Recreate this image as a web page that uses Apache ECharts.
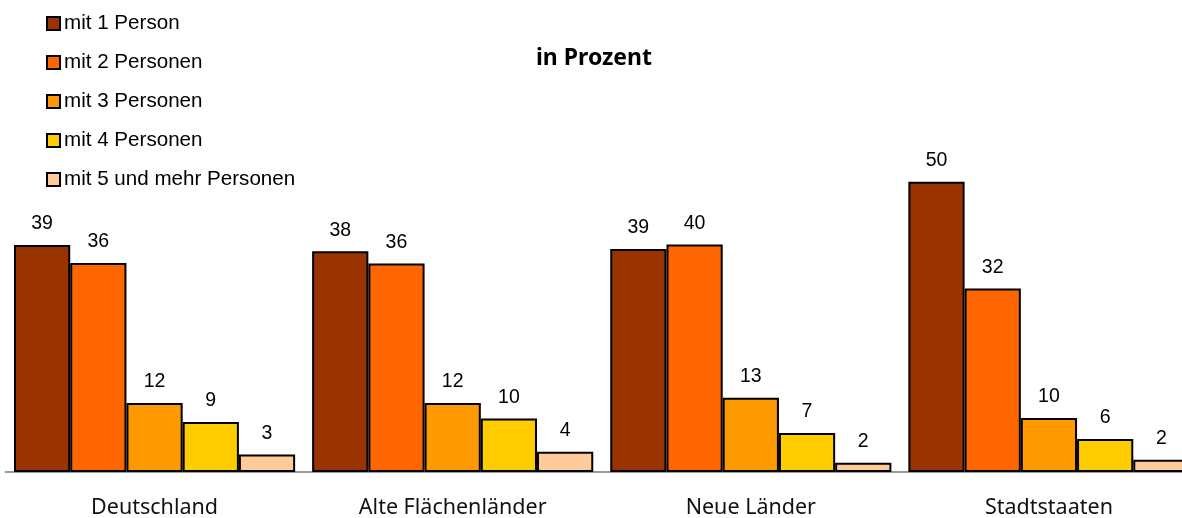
<!DOCTYPE html>
<html>
<head>
<meta charset="utf-8">
<script src="https://cdn.jsdelivr.net/npm/echarts@6/dist/echarts.min.js"></script>
<style>
html,body{margin:0;padding:0;background:#fff;overflow:hidden;width:1182px;height:518px;}
#c{width:1198px;height:518px;}
</style>
</head>
<body>
<div id="c"></div>
<script>
const categories = ['Deutschland', 'Alte Flächenländer', 'Neue Länder', 'Stadtstaaten'];
const seriesNames = ['mit 1 Person', 'mit 2 Personen', 'mit 3 Personen', 'mit 4 Personen', 'mit 5 und mehr Personen'];
const colors = ['#993300', '#FF6600', '#FF9900', '#FFCC00', '#FFCC99'];
const p1 = [39.1, 38.0, 38.4, 50.0];
const p2 = [36.0, 35.9, 39.2, 31.6];
const p3 = [11.9, 11.9, 12.8, 9.3];
const p4 = [8.6, 9.2, 6.7, 5.7];
const p5 = [3.0, 3.5, 1.6, 2.1];
const labels1 = [39, 38, 39, 50];
const labels2 = [36, 36, 40, 32];
const labels3 = [12, 12, 13, 10];
const labels4 = [9, 10, 7, 6];
const labels5 = [3, 4, 2, 2];

const values = [p1, p2, p3, p4, p5];
const labelSets = [labels1, labels2, labels3, labels4, labels5];

const chart = echarts.init(document.getElementById('c'), null, {renderer: 'canvas'});
chart.setOption({
  animation: false,
  backgroundColor: '#ffffff',
  title: {
    text: 'in Prozent',
    left: 594,
    textAlign: 'center',
    top: 47,
    padding: 0,
    textStyle: {fontFamily: 'Noto Sans', fontWeight: 'bold', fontSize: 23, color: '#000'}
  },
  legend: {
    orient: 'vertical',
    left: 46,
    top: 13,
    padding: 0,
    itemWidth: 13,
    itemHeight: 13,
    itemGap: 18,
    icon: 'rect',
    textStyle: {fontFamily: 'Liberation Sans', fontSize: 20.6, color: '#000', lineHeight: 20, padding: [0,0,0,-1]},
    data: seriesNames
  },
  grid: {left: 5.5, top: 181.7, right: 0, bottom: 46, containLabel: false, outerBoundsMode: 'none'},
  xAxis: {
    type: 'category',
    data: categories,
    axisLine: {show: true, lineStyle: {color: '#999', width: 2}},
    axisTick: {show: false},
    axisLabel: {fontFamily: 'Noto Sans', fontSize: 21.5, color: '#111', margin: 25}
  },
  yAxis: {
    type: 'value', min: 0, max: 50, show: false, splitLine: {show: false}
  },
  series: values.map((v, i) => ({
    name: seriesNames[i],
    type: 'bar',
    data: v,
    barGap: '0%',
    barCategoryGap: '5.7%',
    itemStyle: {color: colors[i], borderColor: '#000', borderWidth: 2},
    label: {
      show: true, position: 'top', distance: 11,
      fontFamily: 'Liberation Sans', fontSize: 19.5, color: '#000',
      formatter: (p) => String(labelSets[i][p.dataIndex])
    }
  }))
});
</script>
</body>
</html>
